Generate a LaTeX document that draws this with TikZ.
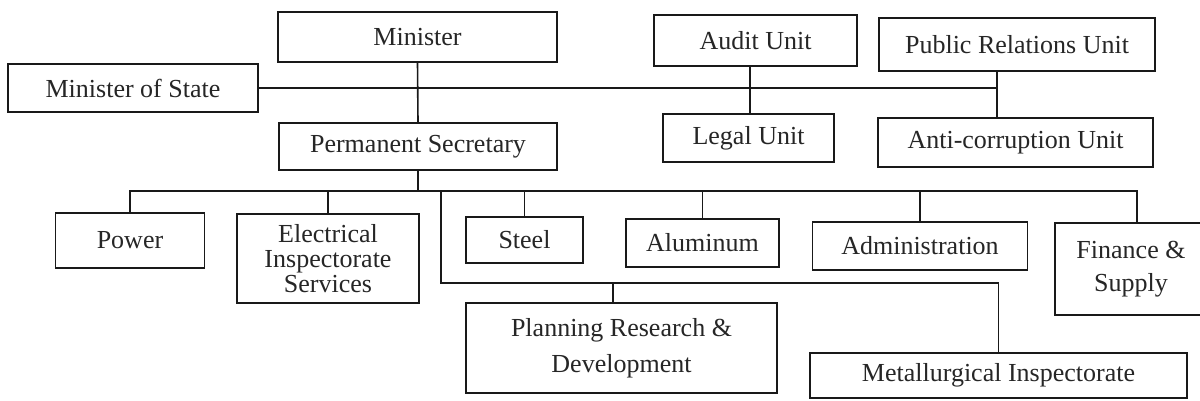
\documentclass[tikz,border=0pt]{standalone}
\usepackage{fontspec}
\setmainfont{Liberation Serif}
\begin{document}
\begin{tikzpicture}[x=1pt,y=-1pt,
  label/.style={inner sep=0pt, align=center, text=black!85,
    font=\fontsize{26}{25}\selectfont},
  unit/.style={label, draw=black!90, line width=1.6pt},
  link/.style={draw=black!90, line width=1.6pt}]
\useasboundingbox[fill=white] (0,0) rectangle (1200,401);

% top level
\node[unit, minimum width=279pt, minimum height=50pt] (min) at (417.5,37) {Minister};
\node[unit, minimum width=250pt, minimum height=48pt] (mos) at (133,88) {Minister of State};
\node[unit, minimum width=278pt, minimum height=47pt] (ps) at (418,146.5) {Permanent Secretary};

% units
\node[unit, minimum width=203pt, minimum height=51pt] (audit) at (755.5,40.5) {Audit Unit};
\node[unit, minimum width=171pt, minimum height=48pt] (legal) at (748.5,138) {Legal Unit};
\node[unit, minimum width=276pt, minimum height=53pt] (pr) at (1017,44.5) {Public Relations Unit};
\node[unit, minimum width=275pt, minimum height=49pt] (anti) at (1015.5,142.5) {Anti-corruption Unit};

% departments
\node[unit, minimum width=149pt, minimum height=55pt] (power) at (130,240.5) {Power};
\node[unit, minimum width=182pt, minimum height=89pt] (elec) at (328,258.5) {Electrical\\Inspectorate\\Services};
\node[unit, minimum width=117pt, minimum height=46pt] (steel) at (524.5,240) {Steel};
\node[unit, minimum width=153pt, minimum height=48pt] (alu) at (702.5,243) {Aluminum};
\node[unit, minimum width=215pt, minimum height=48pt] (admin) at (920,246) {Administration};
\node[label, minimum width=152pt, minimum height=92pt] (fin) at (1131,269) {Finance \&\\[8pt]Supply};
\node[unit, minimum width=311pt, minimum height=90pt] (plan) at (621.5,348) {Planning Research \&\\[11pt]Development};
\node[unit, minimum width=377pt, minimum height=45pt] (met) at (998.5,375.5) {Metallurgical Inspectorate};

% the finance box runs off the right margin
\draw[link] ([xshift=40pt]fin.north east) -- (fin.north west) -- (fin.south west) -- ([xshift=40pt]fin.south east);

% junction columns and rows
\coordinate (aj) at (750,0);
\coordinate (rj) at (997,0);
\coordinate (bus) at (0,191);
\coordinate (low) at (0,283);
\coordinate (lj) at (441,191);
\coordinate (pj) at (613,0);
\coordinate (fj) at (1137,0);

% upper connectors
\draw[link] (min.south) -- (ps.north);
\draw[link] (mos.east) -- (mos.east -| rj);
\draw[link] (audit.south -| aj) -- (legal.north -| aj);
\draw[link] (pr.south -| rj) -- (anti.north -| rj);

% department bus
\draw[link] (ps.south) -- (ps.south |- bus);
\draw[link] (power.north) |- (fj |- bus) -- (fin.north -| fj);
\draw[link] (elec.north |- bus) -- (elec.north);
\draw[link] (steel.north |- bus) -- (steel.north);
\draw[link] (alu.north |- bus) -- (alu.north);
\draw[link] (admin.north |- bus) -- (admin.north);

% lower branch
\draw[link] (lj) |- (met.north |- low) -- (met.north);
\draw[link] (pj |- low) -- (plan.north -| pj);
\end{tikzpicture}
\end{document}
